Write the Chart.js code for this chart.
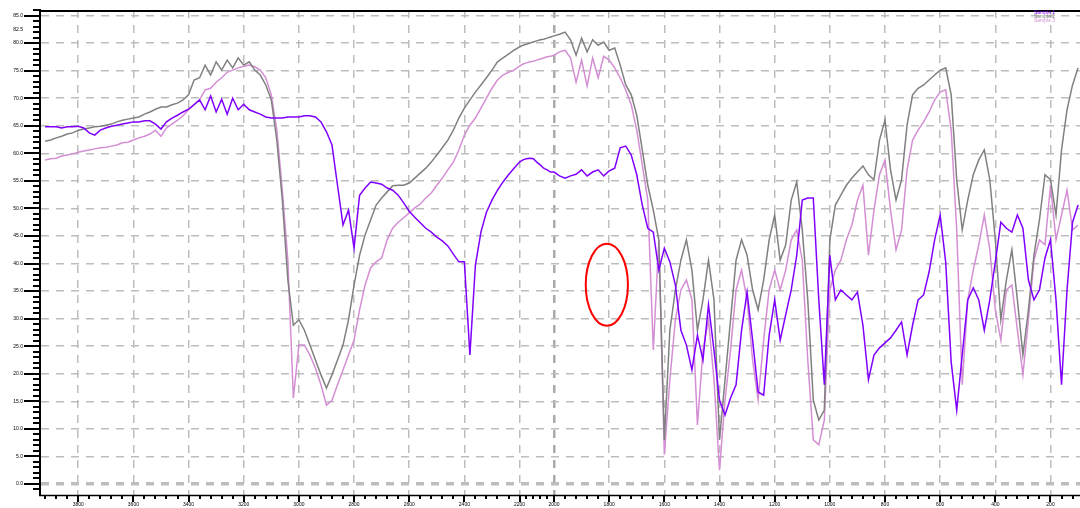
<!DOCTYPE html>
<html>
<head>
<meta charset="utf-8">
<script src="https://cdn.jsdelivr.net/npm/chart.js@4.4.1/dist/chart.umd.min.js"></script>
<style>
  html, body { margin: 0; padding: 0; background: #fff; overflow: hidden; }
  canvas { display: block; }
</style>
</head>
<body>
<canvas id="spectrum" width="1080" height="508"></canvas>
<script>
// Wavenumber grid (cm-1), shared by all three spectra
const wavenumbers = [
  3920,3900,3880,3860,3840,3820,3800,3780,3760,3740,3720,3700,3680,3660,3640,3620,3600,3580,3560,3540,
  3520,3500,3480,3460,3440,3420,3400,3380,3360,3340,3320,3300,3280,3260,3240,3220,3200,3180,3160,3140,
  3120,3100,3080,3060,3040,3020,3000,2980,2960,2940,2920,2900,2880,2860,2840,2820,2800,2780,2760,2740,
  2720,2700,2680,2660,2640,2620,2600,2580,2560,2540,2520,2500,2480,2460,2440,2420,2400,2380,2360,2340,
  2320,2300,2280,2260,2240,2220,2200,
  2180,2160,2140,2120,2100,2080,2060,2040,2020,
  2000,1980,1960,1940,1920,1900,1880,1860,1840,1820,1800,1780,1760,1740,1720,1700,1680,1660,1640,1620,
  1600,1580,1560,1540,1520,1500,1480,1460,1440,1420,1400,1380,1360,1340,1320,1300,1280,1260,1240,1220,
  1200,1180,1160,1140,1120,1100,1080,1060,1040,1020,1000,980,960,940,920,900,880,860,840,820,
  800,780,760,740,720,700,680,660,640,620,600,580,560,540,520,500,480,460,440,420,
  400,380,360,340,320,300,280,260,240,220,200,180,160,140,120,100
];

// Transmittance (%) of each sample
const sampleNames = ['Sample 1', 'Sample 2', 'Sample 3'];

const transmittance1 = [
  64.8,64.8,64.8,64.6,64.8,64.8,64.9,64.6,63.7,63.3,
  64.2,64.6,64.9,65.1,65.3,65.5,65.7,65.7,65.9,65.9,
  65.3,64.4,65.7,66.4,66.9,67.5,68.0,68.8,69.7,67.9,
  70.4,67.5,69.8,67.1,70.0,67.9,68.9,67.9,67.5,67.1,
  66.6,66.4,66.4,66.4,66.6,66.6,66.6,66.8,66.8,66.6,
  65.7,63.9,61.5,54.2,47.0,49.7,42.8,52.4,53.7,54.8,
  54.6,54.4,53.7,53.3,52.4,51.0,49.5,48.4,47.4,46.4,
  45.7,44.8,44.1,43.2,41.7,40.3,40.3,23.4,39.7,45.7,
  49.3,51.5,53.3,54.8,56.1,57.3,58.4,
  58.8,59.0,59.1,59.0,58.4,57.9,57.3,57.0,56.6,
  56.6,55.9,55.5,55.9,56.2,57.0,55.9,56.6,57.0,55.9,
  56.8,57.3,61.0,61.3,59.7,56.1,50.6,46.4,45.7,38.8,
  42.8,40.3,36.1,27.9,25.2,20.7,27.0,22.5,32.5,24.3,
  15.2,12.5,15.6,18.0,27.9,34.8,26.1,16.7,16.1,27.0,
  33.4,26.1,30.7,35.2,41.5,51.5,51.9,51.9,33.4,18.0,
  41.5,33.4,35.2,34.3,33.4,34.8,28.8,18.9,23.4,24.7,
  25.6,26.5,27.9,29.4,23.4,28.8,33.4,34.3,38.5,44.3,
  48.8,40.3,22.1,13.4,23.4,33.4,35.6,33.4,27.9,33.4,
  40.3,47.5,46.4,45.7,48.8,46.4,37.0,33.4,35.2,41.0,
  44.3,33.4,18.0,35.2,47.5,50.6
];

const transmittance2 = [
  62.2,62.4,62.8,63.1,63.5,63.7,64.2,64.4,64.6,64.8,
  64.9,65.1,65.3,65.7,66.0,66.2,66.4,66.6,67.1,67.5,
  68.0,68.4,68.4,68.8,69.1,69.7,70.6,73.3,73.7,76.0,
  74.2,76.6,75.1,76.9,75.5,77.3,76.0,76.6,75.1,74.2,
  72.4,69.7,62.4,51.5,37.0,28.8,29.8,27.9,25.2,22.5,
  19.8,17.4,19.8,22.5,25.2,29.8,36.1,41.5,45.2,47.9,
  50.6,51.9,53.0,54.1,54.2,54.2,54.6,55.5,56.4,57.3,
  58.4,59.7,61.0,62.4,64.2,66.4,68.2,69.7,71.1,72.4,
  73.7,75.1,76.6,77.3,78.0,78.7,79.3,
  79.6,79.8,80.0,80.2,80.4,80.6,80.7,80.9,81.1,
  81.3,81.6,82.0,80.6,77.8,80.9,78.4,80.6,79.6,80.2,
  78.7,79.1,76.0,72.4,70.6,66.9,60.6,54.2,49.7,44.3,
  8.0,27.9,35.2,40.6,44.3,38.8,27.9,33.4,40.6,33.4,
  8.0,18.9,29.8,40.6,44.3,41.5,35.2,31.6,37.0,44.3,
  48.8,40.6,43.4,51.5,54.8,46.1,33.4,15.2,11.6,13.4,
  44.3,50.6,52.4,54.2,55.5,56.6,57.7,56.1,55.2,62.4,
  66.0,57.0,51.5,55.2,65.1,70.6,71.8,72.4,73.3,74.2,
  75.1,75.5,70.6,55.2,46.1,51.5,56.1,58.8,60.6,55.2,
  44.3,29.8,37.0,42.5,33.4,23.4,31.6,41.5,47.9,56.1,
  55.2,48.8,60.6,67.9,72.4,75.5
];

const transmittance3 = [
  58.8,59.0,59.1,59.5,59.7,59.9,60.2,60.4,60.6,60.8,
  61.0,61.1,61.3,61.5,61.9,62.0,62.4,62.8,63.1,63.5,
  64.2,63.1,64.6,65.3,66.0,66.8,67.9,68.9,69.7,71.5,
  71.8,72.9,73.7,74.7,75.1,75.5,75.8,76.0,75.7,75.1,
  73.7,70.6,64.2,53.3,40.6,15.6,25.2,25.2,23.4,21.0,
  18.0,14.3,15.2,18.0,20.7,23.4,26.1,31.6,36.1,39.2,
  40.3,41.0,44.3,46.4,47.5,48.3,49.2,50.1,50.8,51.9,
  52.8,54.2,55.5,57.0,58.4,60.6,63.3,65.1,66.4,68.2,
  70.0,71.8,73.3,74.2,74.7,75.1,75.8,
  76.2,76.4,76.6,76.7,76.9,77.1,77.3,77.5,77.6,
  77.8,78.4,78.7,77.3,72.9,76.9,72.2,77.3,73.7,77.6,
  76.9,75.5,73.7,71.5,68.8,64.2,57.9,51.5,24.3,44.3,
  5.3,18.9,29.8,35.2,37.0,33.4,10.7,24.3,29.8,18.9,
  2.5,15.2,24.3,35.2,38.8,33.4,22.5,15.2,26.1,35.2,
  38.8,35.2,38.8,44.3,46.1,40.6,22.5,8.0,7.1,11.6,
  35.2,38.8,40.6,44.3,47.0,51.5,54.2,41.5,49.7,56.1,
  58.8,49.7,42.5,46.1,57.0,62.4,64.2,65.7,67.5,69.7,
  71.1,71.5,64.2,46.1,18.0,33.4,38.8,43.4,48.8,42.5,
  31.6,26.1,35.2,36.1,27.9,19.8,29.8,40.6,44.3,43.4,
  54.2,44.3,48.8,53.3,46.1,47.0
];

// Axis tick labels
const xTickValues = [3800,3600,3400,3200,3000,2800,2600,2400,2200,2000,1800,1600,1400,1200,1000,800,600,400,200];
const yTickValues = [0,5,10,15,20,25,30,35,40,45,50,55,60,65,70,75,80,82.5,85];

// Band of interest circled on the plot (wavenumber span, transmittance span)
const markedBand = { wnFrom: 1885, wnTo: 1732, tLow: 28.7, tHigh: 43.6 };

const seriesColors = ['#8000ff', '#808080', '#d48ed4'];

// Wavenumber axis with the 2200-2000 cm-1 interval compressed
const BREAK_LO = 2000, BREAK_HI = 2200, BREAK_FACTOR = 0.625;
function warp(v) {
  if (v <= BREAK_LO) return v;
  if (v >= BREAK_HI) return v - (BREAK_HI - BREAK_LO) * (1 - BREAK_FACTOR);
  return BREAK_LO + (v - BREAK_LO) * BREAK_FACTOR;
}
function unwarp(u) {
  const uHi = BREAK_LO + (BREAK_HI - BREAK_LO) * BREAK_FACTOR;
  if (u <= BREAK_LO) return u;
  if (u >= uHi) return u + (BREAK_HI - BREAK_LO) * (1 - BREAK_FACTOR);
  return BREAK_LO + (u - BREAK_LO) / BREAK_FACTOR;
}
class BrokenLinearScale extends Chart.LinearScale {
  getPixelForValue(value) {
    if (value === null || isNaN(value)) return NaN;
    const a = warp(this.min), b = warp(this.max);
    return this.getPixelForDecimal((warp(value) - a) / (b - a));
  }
  getValueForPixel(pixel) {
    const a = warp(this.min), b = warp(this.max);
    return unwarp(a + this.getDecimalForPixel(pixel) * (b - a));
  }
}
BrokenLinearScale.id = 'brokenLinear';
BrokenLinearScale.defaults = Chart.LinearScale.defaults;
Chart.register(BrokenLinearScale);

const toPoints = (vals) => wavenumbers.map((w, i) => ({ x: w, y: vals[i] }));

const GRID = '#bdbdbd';
const tickFont = { family: 'Liberation Sans, Arial, sans-serif', size: 5 };

// Axis frame, tick marks, legend text and the circled band
const decorPlugin = {
  id: 'decor',
  afterDraw(chart) {
    const { ctx, chartArea: a, scales: { x, y } } = chart;
    ctx.save();
    ctx.strokeStyle = '#000';

    // x tick marks: major at labels, minor every 40 cm-1
    ctx.lineWidth = 2;
    ctx.beginPath();
    for (let v = 3920; v >= 120; v -= 40) {
      const px = Math.round(x.getPixelForValue(v));
      const len = xTickValues.includes(v) ? 7 : 4;
      ctx.moveTo(px, a.bottom);
      ctx.lineTo(px, a.bottom + len);
    }
    ctx.stroke();

    // y tick marks: major every 5 %, minor every 1 %
    ctx.beginPath();
    for (let v = -1; v <= 86; v++) {
      const py = Math.round(y.getPixelForValue(v));
      const len = v % 5 === 0 ? 17 : 8;
      ctx.moveTo(a.left - len, py);
      ctx.lineTo(a.left, py);
    }
    ctx.stroke();

    // axis lines and top frame
    ctx.lineWidth = 2;
    ctx.beginPath();
    ctx.moveTo(a.left - 1, a.top);
    ctx.lineTo(a.left - 1, a.bottom + 1);
    ctx.moveTo(a.left - 2, a.top + 1);
    ctx.lineTo(a.right, a.top + 1);
    ctx.stroke();
    ctx.lineWidth = 1.5;
    ctx.beginPath();
    ctx.moveTo(a.left - 2, a.bottom + 0.5);
    ctx.lineTo(a.right, a.bottom + 0.5);
    ctx.stroke();

    // legend
    ctx.font = '5px Liberation Sans, Arial, sans-serif';
    ctx.textBaseline = 'middle';
    ctx.textAlign = 'left';
    const rows = [12.5, 17, 21];
    chart.data.datasets.forEach((ds, i) => {
      ctx.fillStyle = ds.borderColor;
      ctx.fillText(ds.label, 1034, rows[i]);
    });

    // circled band
    const x0 = x.getPixelForValue(markedBand.wnFrom), x1 = x.getPixelForValue(markedBand.wnTo);
    const y0 = y.getPixelForValue(markedBand.tLow), y1 = y.getPixelForValue(markedBand.tHigh);
    ctx.strokeStyle = '#ff0000';
    ctx.lineWidth = 2;
    ctx.beginPath();
    ctx.ellipse((x0 + x1) / 2, (y0 + y1) / 2, Math.abs(x1 - x0) / 2, Math.abs(y1 - y0) / 2, 0, 0, Math.PI * 2);
    ctx.stroke();
    ctx.restore();
  }
};

new Chart(document.getElementById('spectrum'), {
  type: 'line',
  data: {
    datasets: [
      { label: sampleNames[0], data: toPoints(transmittance1), borderColor: seriesColors[0] },
      { label: sampleNames[1], data: toPoints(transmittance2), borderColor: seriesColors[1] },
      { label: sampleNames[2], data: toPoints(transmittance3), borderColor: seriesColors[2] }
    ]
  },
  options: {
    responsive: false,
    animation: false,
    events: [],
    layout: { padding: { top: 10, right: 0, bottom: 0, left: 0 } },
    elements: {
      line: { borderWidth: 1.5, tension: 0, fill: false },
      point: { radius: 0 }
    },
    plugins: { legend: { display: false }, tooltip: { enabled: false } },
    scales: {
      x: {
        type: 'brokenLinear',
        reverse: true,
        min: 93,
        max: 3935,
        bounds: 'data',
        afterBuildTicks: (scale) => { scale.ticks = xTickValues.map(v => ({ value: v })); },
        afterFit: (scale) => { scale.height = 13; scale.paddingLeft = 0; scale.paddingRight = 0; },
        ticks: {
          autoSkip: false, maxRotation: 0, padding: 7, color: '#000', font: tickFont,
          callback: (v) => String(v)
        },
        grid: {
          drawTicks: false,
          color: (c) => (c.tick && c.tick.value === 2000 ? '#aaaaaa' : GRID),
          lineWidth: (c) => (c.tick && c.tick.value === 2000 ? 2.5 : 1.5)
        },
        border: { display: false, dash: [8, 7] }
      },
      y: {
        min: -2,
        max: 86,
        bounds: 'data',
        afterBuildTicks: (scale) => { scale.ticks = yTickValues.map(v => ({ value: v })); },
        afterFit: (scale) => { scale.width = 41; scale.paddingTop = 0; scale.paddingBottom = 0; },
        ticks: {
          autoSkip: false, padding: 18, color: '#000', font: tickFont,
          callback: (v) => Number(v).toFixed(1)
        },
        grid: {
          drawTicks: false,
          color: (c) => (c.tick && c.tick.value === 82.5 ? 'rgba(0,0,0,0)' : GRID),
          lineWidth: (c) => (c.tick && c.tick.value === 0 ? 3.5 : 1.5)
        },
        border: { display: false, dash: [8, 7] }
      }
    }
  },
  plugins: [decorPlugin]
});
</script>
</body>
</html>
